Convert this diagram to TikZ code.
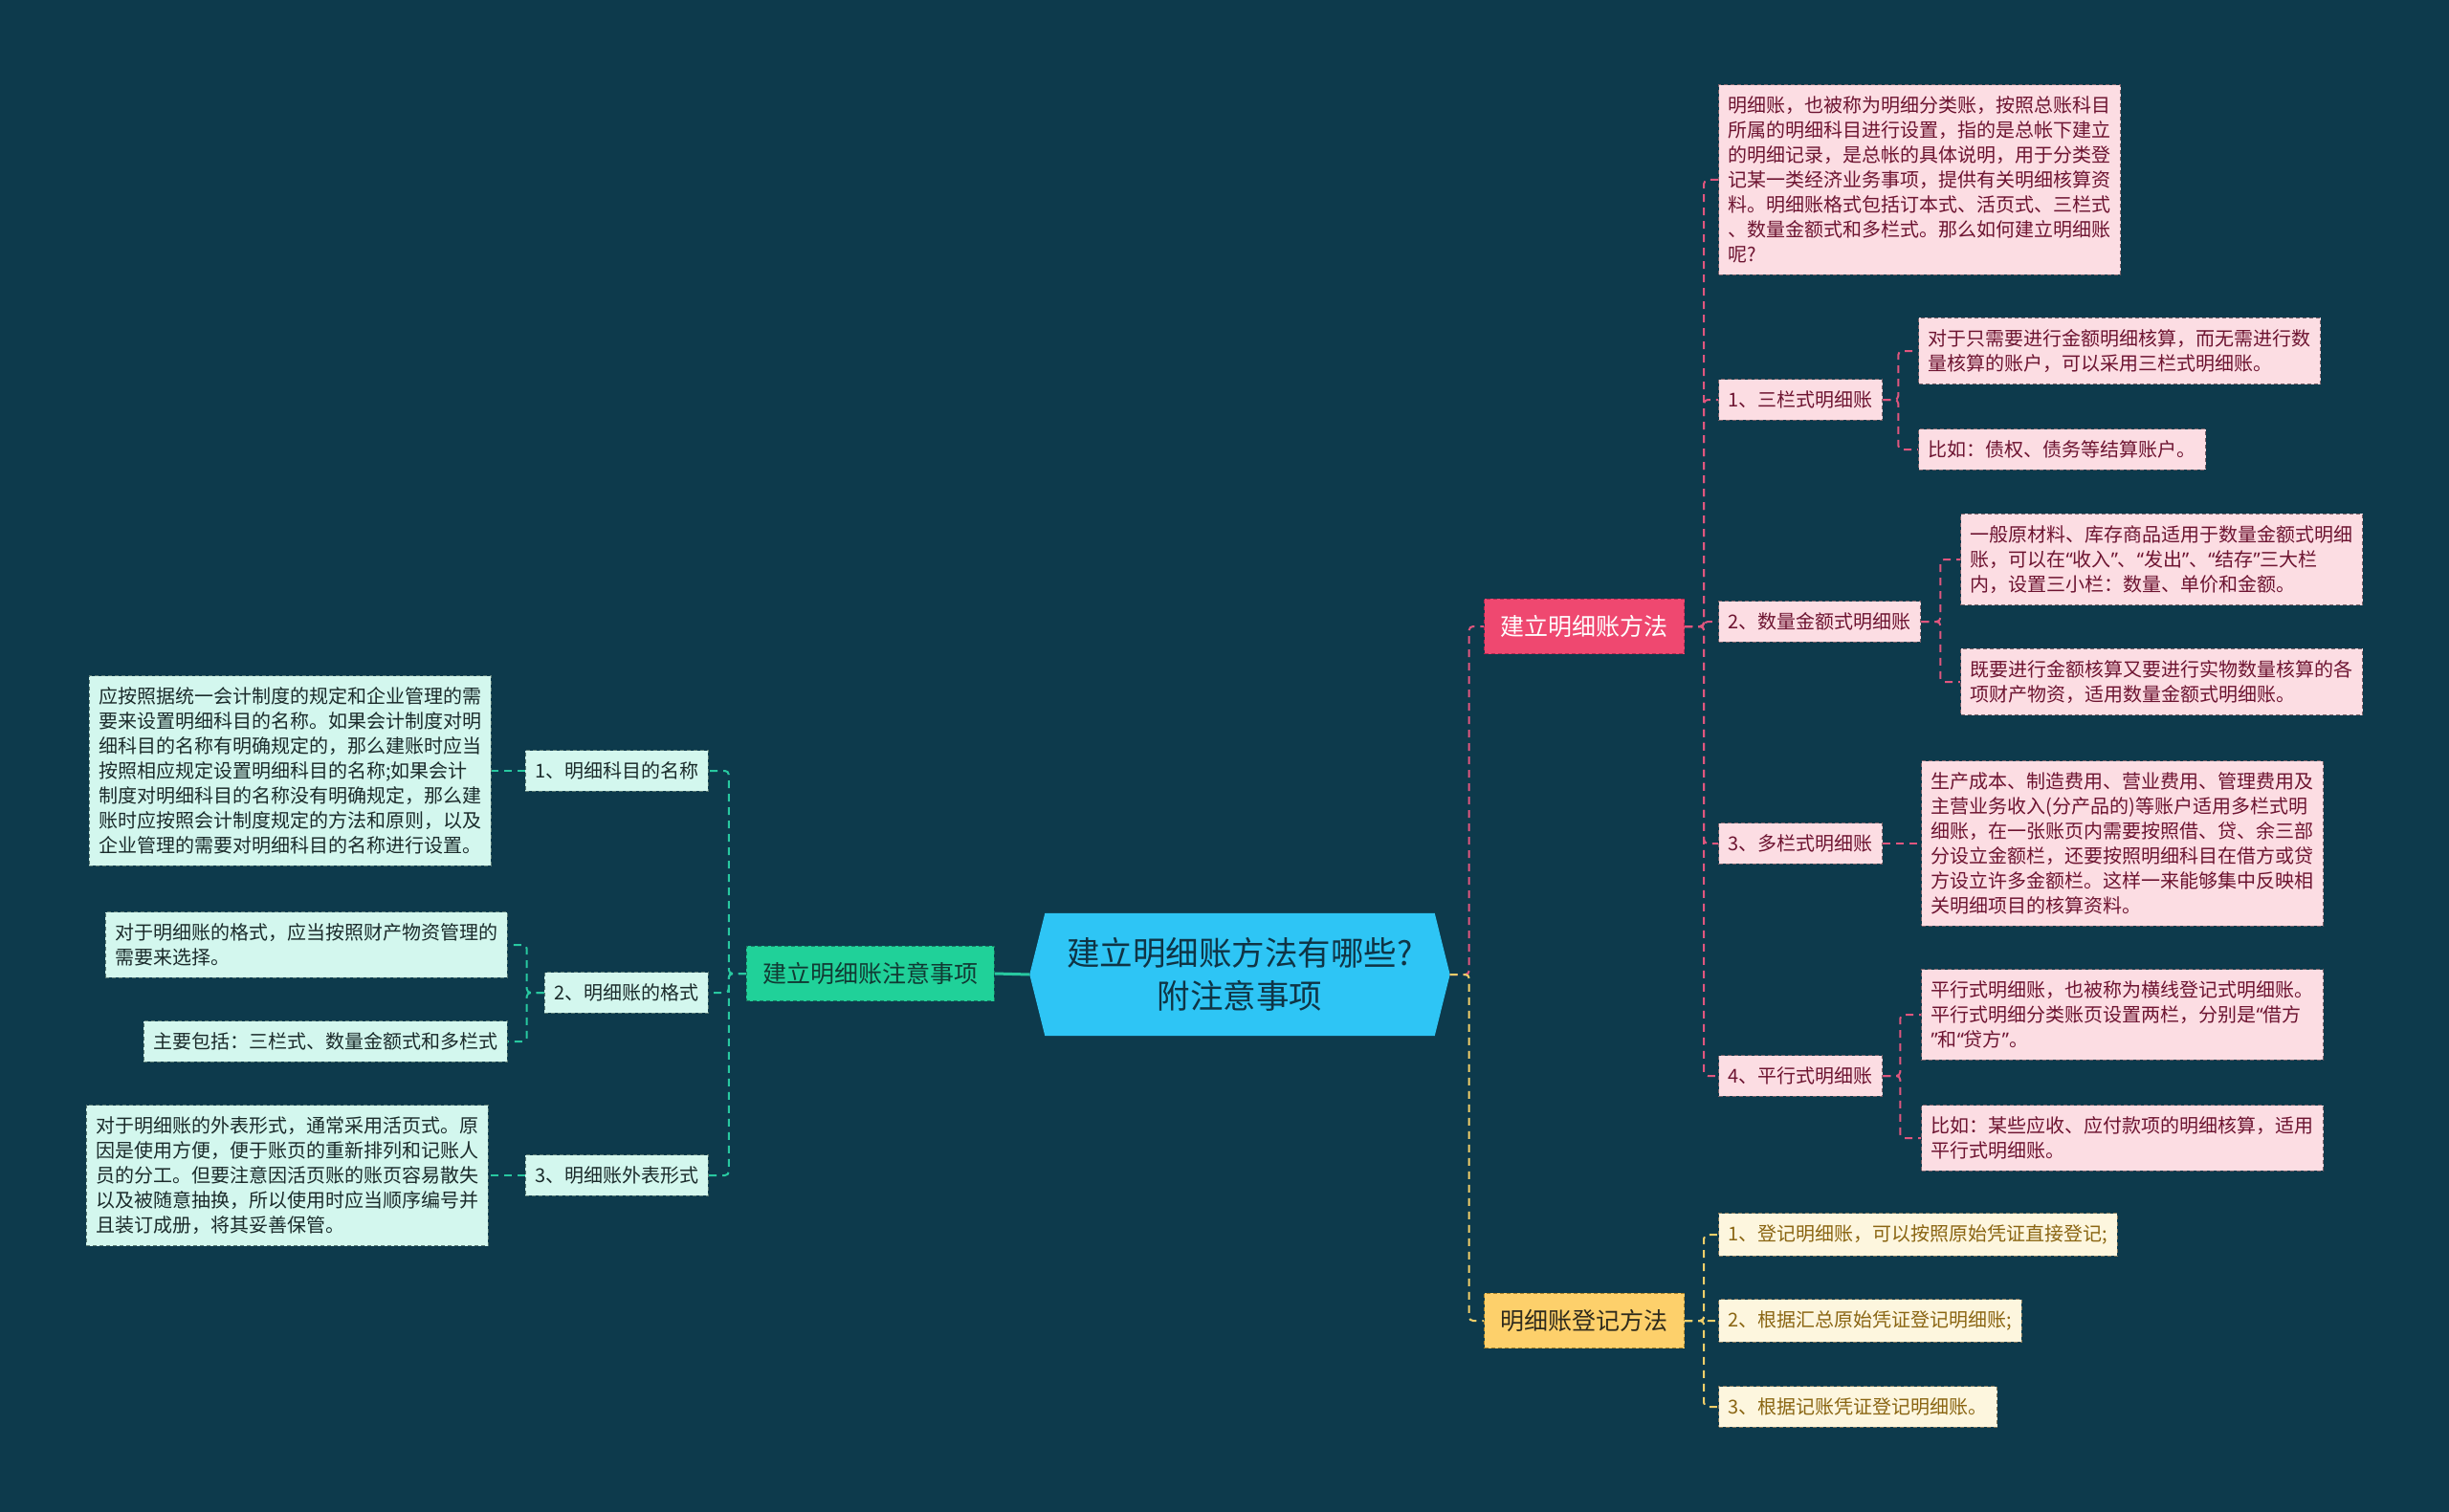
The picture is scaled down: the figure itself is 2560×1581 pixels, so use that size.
\documentclass[tikz,border=0pt]{standalone}
\usepackage{fontspec}
\setmainfont{Noto Sans CJK SC}
\newfontfamily\qfont{Noto Sans}
\newcommand{\oq}{{\qfont “}}
\newcommand{\cq}{{\qfont ”}}
\usetikzlibrary{backgrounds}
\definecolor{bgc}{RGB}{13,58,76}
\definecolor{hexfill}{RGB}{46,197,245}
\definecolor{hextext}{RGB}{15,52,69}
\definecolor{greenfill}{RGB}{32,209,153}
\definecolor{greentext}{RGB}{17,58,51}
\definecolor{greenline}{RGB}{40,200,160}
\definecolor{mintfill}{RGB}{211,247,238}
\definecolor{minttext}{RGB}{27,43,43}
\definecolor{mintborder}{RGB}{90,122,116}
\definecolor{pinkA}{RGB}{239,72,112}
\definecolor{pinkAborder}{RGB}{180,40,80}
\definecolor{pinkline}{RGB}{224,86,126}
\definecolor{pinkfill}{RGB}{252,221,227}
\definecolor{pinktext}{RGB}{109,20,49}
\definecolor{pinkborder}{RGB}{122,96,104}
\definecolor{yellowB}{RGB}{253,208,107}
\definecolor{yellowBborder}{RGB}{170,130,40}
\definecolor{yellowline}{RGB}{242,207,106}
\definecolor{Btext}{RGB}{46,42,28}
\definecolor{creamfill}{RGB}{253,246,222}
\definecolor{creamtext}{RGB}{138,101,18}
\definecolor{creamborder}{RGB}{130,118,90}
\tikzset{
  base/.style={font=\fontsize{20}{26}\selectfont, align=left, inner xsep=10pt, inner ysep=12pt,
    line width=1.2pt, dash pattern=on 4pt off 3pt},
  pleaf/.style={base, fill=pinkfill, draw=pinkborder, text=pinktext},
  mleaf/.style={base, fill=mintfill, draw=mintborder, text=minttext},
  yleaf/.style={base, fill=creamfill, draw=creamborder, text=creamtext},
  branch/.style={font=\fontsize{25}{30}\selectfont, inner xsep=17pt, inner ysep=17pt,
    line width=1.2pt, dash pattern=on 4pt off 3pt},
  link/.style={line width=2pt, dash pattern=on 8pt off 6pt, rounded corners=4pt},
}
\begin{document}
\begin{tikzpicture}[x=1pt,y=-1pt]
\useasboundingbox (0,0) rectangle (2560,1581);
% central
\node[minimum width=439pt, minimum height=128pt, inner sep=0pt, align=center, text=hextext,
  font=\fontsize{34.5}{45}\selectfont] (central) at (1296,1019) {建立明细账方法有哪些?\\附注意事项};
% left branch
\node[branch, fill=greenfill, draw=greenline!60!black, text=greentext, anchor=east] (green) at (1040,1018) {建立明细账注意事项};
\node[mleaf, anchor=east] (s1) at (741,806) {1、明细科目的名称};
\node[mleaf, anchor=east] (s2) at (741,1038) {2、明细账的格式};
\node[mleaf, anchor=east] (s3) at (741,1229) {3、明细账外表形式};
\node[mleaf, anchor=east] (l1) at (514,806) {应按照据统一会计制度的规定和企业管理的需\\要来设置明细科目的名称。如果会计制度对明\\细科目的名称有明确规定的，那么建账时应当\\按照相应规定设置明细科目的名称;如果会计\\制度对明细科目的名称没有明确规定，那么建\\账时应按照会计制度规定的方法和原则，以及\\企业管理的需要对明细科目的名称进行设置。};
\node[mleaf, anchor=east] (l2a) at (531,988) {对于明细账的格式，应当按照财产物资管理的\\需要来选择。};
\node[mleaf, anchor=east] (l2b) at (531,1089) {主要包括：三栏式、数量金额式和多栏式};
\node[mleaf, anchor=east] (l3) at (511,1229) {对于明细账的外表形式，通常采用活页式。原\\因是使用方便，便于账页的重新排列和记账人\\员的分工。但要注意因活页账的账页容易散失\\以及被随意抽换，所以使用时应当顺序编号并\\且装订成册，将其妥善保管。};
% right branch A
\node[branch, fill=pinkA, draw=pinkAborder, text=white, anchor=west] (A) at (1551,655) {建立明细账方法};
\node[pleaf, anchor=west] (intro) at (1796,188) {明细账，也被称为明细分类账，按照总账科目\\所属的明细科目进行设置，指的是总帐下建立\\的明细记录，是总帐的具体说明，用于分类登\\记某一类经济业务事项，提供有关明细核算资\\料。明细账格式包括订本式、活页式、三栏式\\、数量金额式和多栏式。那么如何建立明细账\\呢?};
\node[pleaf, anchor=west] (c1) at (1796,418) {1、三栏式明细账};
\node[pleaf, anchor=west] (c2) at (1796,650) {2、数量金额式明细账};
\node[pleaf, anchor=west] (c3) at (1796,882) {3、多栏式明细账};
\node[pleaf, anchor=west] (c4) at (1796,1125) {4、平行式明细账};
\node[pleaf, anchor=west] (g1a) at (2005,367) {对于只需要进行金额明细核算，而无需进行数\\量核算的账户，可以采用三栏式明细账。};
\node[pleaf, anchor=west] (g1b) at (2005,470) {比如：债权、债务等结算账户。};
\node[pleaf, anchor=west] (g2a) at (2049,585) {一般原材料、库存商品适用于数量金额式明细\\账，可以在\oq 收入\cq 、\oq 发出\cq 、\oq 结存\cq 三大栏\\内，设置三小栏：数量、单价和金额。};
\node[pleaf, anchor=west] (g2b) at (2049,713) {既要进行金额核算又要进行实物数量核算的各\\项财产物资，适用数量金额式明细账。};
\node[pleaf, anchor=west] (g3a) at (2008,882) {生产成本、制造费用、营业费用、管理费用及\\主营业务收入(分产品的)等账户适用多栏式明\\细账，在一张账页内需要按照借、贷、余三部\\分设立金额栏，还要按照明细科目在借方或贷\\方设立许多金额栏。这样一来能够集中反映相\\关明细项目的核算资料。};
\node[pleaf, anchor=west] (g4a) at (2008,1061) {平行式明细账，也被称为横线登记式明细账。\\平行式明细分类账页设置两栏，分别是\oq 借方\\\cq 和\oq 贷方\cq 。};
\node[pleaf, anchor=west] (g4b) at (2008,1190) {比如：某些应收、应付款项的明细核算，适用\\平行式明细账。};
% right branch B
\node[branch, fill=yellowB, draw=yellowBborder, text=Btext, anchor=west] (B) at (1551,1381) {明细账登记方法};
\node[yleaf, anchor=west] (b1) at (1796,1291) {1、登记明细账，可以按照原始凭证直接登记;};
\node[yleaf, anchor=west] (b2) at (1796,1381) {2、根据汇总原始凭证登记明细账;};
\node[yleaf, anchor=west] (b3) at (1796,1471) {3、根据记账凭证登记明细账。};
% background and hexagon
\begin{pgfonlayer}{background}
\fill[bgc] (0,0) rectangle (2560,1581);
\fill[hexfill] (central.west) -- ([xshift=16pt]central.north west) -- ([xshift=-16pt]central.north east)
  -- (central.east) -- ([xshift=-16pt]central.south east) -- ([xshift=16pt]central.south west) -- cycle;
\end{pgfonlayer}
% connectors
\draw[greenline, line width=3pt] (central.west) -- (green.east);
\foreach \n in {s1,s2,s3} \draw[link, greenline] (green.west) -- ++(-18,0) |- (\n.east);
\draw[link, greenline] (s1.west) -- (l1.east);
\draw[link, greenline] (s3.west) -- (l3.east);
\foreach \n in {l2a,l2b} \draw[link, greenline] (s2.west) -- ++(-18,0) |- (\n.east);
\draw[link, pinkline] (central.east) -- ++(20,0) |- (A.west);
\draw[link, yellowline] (central.east) -- ++(20,0) |- (B.west);
\foreach \n in {intro,c1,c2,c3,c4} \draw[link, pinkline] (A.east) -- ++(20,0) |- (\n.west);
\foreach \n in {g1a,g1b} \draw[link, pinkline] (c1.east) -- ++(16,0) |- (\n.west);
\foreach \n in {g2a,g2b} \draw[link, pinkline] (c2.east) -- ++(20,0) |- (\n.west);
\draw[link, pinkline] (c3.east) -- (g3a.west);
\foreach \n in {g4a,g4b} \draw[link, pinkline] (c4.east) -- ++(18,0) |- (\n.west);
\foreach \n in {b1,b2,b3} \draw[link, yellowline] (B.east) -- ++(20,0) |- (\n.west);
\end{tikzpicture}
\end{document}
